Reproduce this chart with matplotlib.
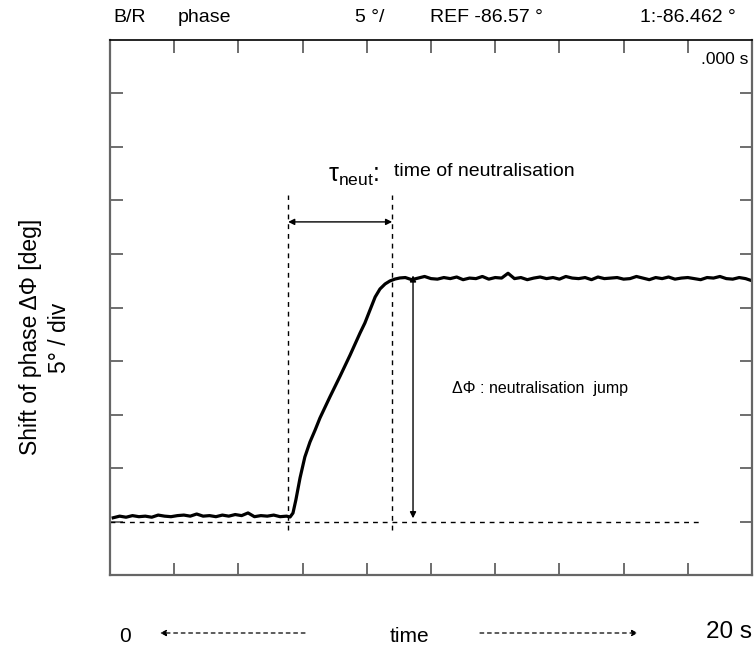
import matplotlib
matplotlib.use("Agg")
import matplotlib.pyplot as plt

plt.rcParams['font.family'] = ['Liberation Sans', 'DejaVu Sans']

# ---- data (time in s, phase shift in degrees relative to bottom of screen) ----
base_t = [0.1, 0.3, 0.5, 0.7, 0.9, 1.1, 1.3, 1.5, 1.7, 1.9, 2.1, 2.3, 2.5, 2.7,
          2.9, 3.1, 3.3, 3.5, 3.7, 3.9, 4.1, 4.3, 4.5, 4.7, 4.9, 5.1, 5.3, 5.5]
base_v = [5.35, 5.5, 5.4, 5.55, 5.45, 5.5, 5.4, 5.6, 5.5, 5.45, 5.55, 5.6, 5.5, 5.7,
          5.5, 5.55, 5.45, 5.6, 5.5, 5.65, 5.55, 5.8, 5.45, 5.55, 5.5, 5.6, 5.45, 5.5]

rise_t = [5.61, 5.70, 5.79, 5.92, 6.07, 6.23, 6.39, 6.54, 6.85, 7.17, 7.48, 7.79,
          7.94, 8.10, 8.26, 8.41, 8.57, 8.72, 8.88, 9.03]
rise_v = [5.42, 5.79, 7.01, 9.07, 11.03, 12.43, 13.55, 14.67, 16.64, 18.60, 20.56,
          22.62, 23.55, 24.77, 25.98, 26.73, 27.20, 27.48, 27.66, 27.76]

plat_t = [9.2, 9.4, 9.6, 9.8, 10.0, 10.2, 10.4, 10.6, 10.8, 11.0, 11.2, 11.4, 11.6,
          11.8, 12.0, 12.2, 12.4, 12.6, 12.8, 13.0, 13.2, 13.4, 13.6, 13.8, 14.0,
          14.2, 14.4, 14.6, 14.8, 15.0, 15.2, 15.4, 15.6, 15.8, 16.0, 16.2, 16.4,
          16.6, 16.8, 17.0, 17.2, 17.4, 17.6, 17.8, 18.0, 18.2, 18.4, 18.6, 18.8,
          19.0, 19.2, 19.4, 19.6, 19.8, 20.0]
plat_v = [27.8, 27.6, 27.75, 27.9, 27.7, 27.65, 27.8, 27.7, 27.85, 27.6, 27.75, 27.7,
          27.9, 27.65, 27.8, 27.75, 28.2, 27.7, 27.8, 27.6, 27.75, 27.85, 27.7, 27.8,
          27.65, 27.9, 27.75, 27.7, 27.8, 27.6, 27.85, 27.7, 27.75, 27.8, 27.65, 27.7,
          27.9, 27.75, 27.6, 27.8, 27.7, 27.85, 27.65, 27.75, 27.8, 27.7, 27.6, 27.8,
          27.75, 27.9, 27.7, 27.65, 27.8, 27.7, 27.5]

t_start = 5.55      # start of neutralisation
t_end = 8.79        # end of neutralisation
ref_level = 5.0     # reference level (dashed)
ref_end = 18.45
jump_t = 9.44
jump_low = 5.3
jump_high = 28.0
tau_y = 33.0

x_max = 20.0
y_max = 50.0
n_div = 10

header = ["B/R", "phase", "5 °/", "REF -86.57 °", "1:-86.462 °"]

# ---- figure ----
W, H = 754, 650
fig = plt.figure(figsize=(W / 100, H / 100), dpi=100)
ax = fig.add_axes([110 / W, (H - 575) / H, 642 / W, 535 / H])

t_all = base_t + rise_t + plat_t
v_all = base_v + rise_v + plat_v
ax.plot(t_all, v_all, color='black', lw=2.3, solid_joinstyle='round')

dash = (0, (3.5, 3.5))
ax.plot([t_start, t_start], [4.2, 35.5], color='black', lw=1.0, linestyle=dash)
ax.plot([t_end, t_end], [4.2, 35.5], color='black', lw=1.0, linestyle=dash)
ax.plot([0, ref_end], [ref_level, ref_level], color='black', lw=1.0, linestyle=dash)

ax.annotate('', xy=(t_start, tau_y), xytext=(t_end, tau_y),
            arrowprops=dict(arrowstyle='<|-|>', lw=1.0, color='black',
                            mutation_scale=9, shrinkA=0, shrinkB=0))
ax.annotate('', xy=(jump_t, jump_low), xytext=(jump_t, jump_high),
            arrowprops=dict(arrowstyle='<|-|>', lw=1.0, color='black',
                            mutation_scale=9, shrinkA=0, shrinkB=0))

ax.text(6.8, 37.3, r'$\mathregular{τ_{neut}}$:', fontsize=18, ha='left', va='center')
ax.text(8.85, 37.7, 'time of neutralisation', fontsize=14, ha='left', va='center')
ax.text(10.65, 17.4, 'ΔΦ : neutralisation  jump', fontsize=11.5, ha='left', va='center')

ax.set_xlim(0, x_max)
ax.set_ylim(0, y_max)
ax.set_xticks([x_max * i / n_div for i in range(1, n_div)])
ax.set_yticks([y_max * i / n_div for i in range(1, n_div)])
ax.set_xticklabels([])
ax.set_yticklabels([])
ax.tick_params(direction='in', length=9, width=1.2, color='#555555',
               top=True, right=True, bottom=True, left=True)
for side in ['left', 'right', 'bottom']:
    ax.spines[side].set_color('#666666')
    ax.spines[side].set_linewidth(1.6)
ax.spines['top'].set_color('black')
ax.spines['top'].set_linewidth(1.2)

# ---- outer texts ----
fs = 14
hx = [113, 178, 355, 430, 640]
for x, s in zip(hx, header):
    fig.text(x / W, 1 - 18 / H, s, fontsize=fs, ha='left', va='center')
fig.text(748 / W, 1 - 59 / H, '.000 s', fontsize=12.5, ha='right', va='center')

fig.text(31 / W, 1 - 337 / H, 'Shift of phase ΔΦ [deg]', fontsize=16.5,
         rotation=90, ha='center', va='center')
fig.text(60 / W, 1 - 338 / H, '5° / div', fontsize=16.5,
         rotation=90, ha='center', va='center')

fig.text(125 / W, 1 - 636 / H, '0', fontsize=15, ha='center', va='center')
fig.text(409 / W, 1 - 636 / H, 'time', fontsize=15, ha='center', va='center')
fig.text(752 / W, 1 - 632 / H, '20 s', fontsize=17.5, ha='right', va='center')

for (x0, x1) in [(305, 160), (480, 638)]:
    fig.add_artist(matplotlib.patches.FancyArrowPatch(
        (x0 / W, 1 - 633 / H), (x1 / W, 1 - 633 / H), transform=fig.transFigure,
        arrowstyle='-|>', mutation_scale=9, lw=0.9, linestyle=(0, (3, 3)),
        color='black', shrinkA=0, shrinkB=0))

fig.savefig('out.png', dpi=100, facecolor='white')
